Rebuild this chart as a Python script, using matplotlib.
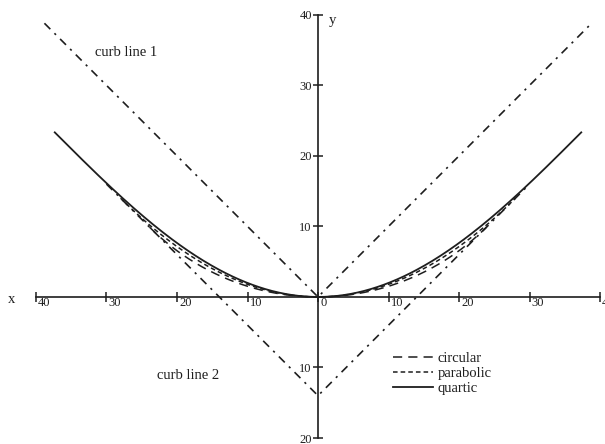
import numpy as np
import matplotlib
matplotlib.use("Agg")
import matplotlib.pyplot as plt

plt.rcParams['font.family'] = ['Liberation Serif', 'DejaVu Serif']

# geometry of the two curb lines
curb1_offset = 0.0      # curb line 1: y = |x|
curb2_offset = -14.0    # curb line 2: y = |x| - 14
curb1_extent = 38.8
curb2_extent = 30.0

x_ticks = [-40, -30, -20, -10, 0, 10, 20, 30, 40]
x_tick_labels = ['40', '30', '20', '10', '0', '10', '20', '30', '40']
y_ticks = [-20, -10, 10, 20, 30, 40]
y_tick_labels = ['20', '10', '10', '20', '30', '40']

legend_names = ['circular', 'parabolic', 'quartic']
ink = '#1e1e1e'

d = -curb2_offset

# circular arc tangent to y=0 at origin and to curb line 2
R = d / (np.sqrt(2) - 1)
xc_end = R / np.sqrt(2)
xc = np.linspace(-xc_end, xc_end, 301)
yc = R - np.sqrt(R ** 2 - xc ** 2)

# parabola y = a x^2 tangent to curb line 2
xp_end = 2 * d
a_p = 1 / (2 * xp_end)
xp = np.linspace(-xp_end, xp_end, 301)
yp = a_p * xp ** 2

# quartic y = a x^2 + c x^4, tangent with zero curvature at the end
xq_end = 8 * d / 3
a_q = 3 / (4 * xq_end)
c_q = -1 / (8 * xq_end ** 3)
xq = np.linspace(-xq_end, xq_end, 401)
yq = a_q * xq ** 2 + c_q * xq ** 4

fig = plt.figure(figsize=(6.05, 4.44), dpi=100)
ax = fig.add_axes([0, 0, 1, 1])
ax.set_xlim(-45.1, 40.7)
ax.set_ylim(-20.85, 42.1)

dashdot = (0, (5, 3.5, 1.3, 3.5))
x1 = np.array([-curb1_extent, 0, curb1_extent])
ax.plot(x1, np.abs(x1) + curb1_offset, color=ink, lw=1.2, linestyle=dashdot)
x2 = np.array([-curb2_extent, 0, curb2_extent])
ax.plot(x2, np.abs(x2) + curb2_offset, color=ink, lw=1.2, linestyle=dashdot)

ax.plot(xc, yc, color=ink, lw=1.1, linestyle=(0, (6, 4)), label=legend_names[0])
ax.plot(xp, yp, color=ink, lw=1.1, linestyle=(0, (3, 2)), label=legend_names[1])
ax.plot(xq, yq, color=ink, lw=1.3, linestyle='-', label=legend_names[2])

# axes crossing at the origin
for s in ['top', 'right']:
    ax.spines[s].set_visible(False)
ax.spines['left'].set_position(('data', 0))
ax.spines['bottom'].set_position(('data', 0))
ax.spines['bottom'].set_bounds(-40, 40)
ax.spines['left'].set_bounds(-20, 40)
for s in ['left', 'bottom']:
    ax.spines[s].set_color(ink)
    ax.spines[s].set_linewidth(1.2)

ax.set_xticks(x_ticks, [''] * len(x_ticks))
ax.set_yticks(y_ticks, y_tick_labels)
ax.tick_params(axis='x', direction='inout', length=7, width=1.1, color=ink)
ax.tick_params(axis='y', direction='inout', length=7, width=1.1, color=ink,
               labelsize=9, labelcolor=ink, pad=1)

for v, lbl in zip(x_ticks, x_tick_labels):
    ax.text(v + 0.3, -0.05, lbl, ha='left', va='top', fontsize=9, color=ink)

ax.text(-43.5, -0.4, 'x', ha='center', va='center', fontsize=10.5, color=ink)
ax.text(2.1, 39.2, 'y', ha='center', va='center', fontsize=10.5, color=ink)
ax.text(-27.2, 34.6, 'curb line 1', ha='center', va='center', fontsize=10.5, color=ink)
ax.text(-18.4, -11.1, 'curb line 2', ha='center', va='center', fontsize=10.5, color=ink)

ax.legend(loc='upper left', bbox_to_anchor=(0.650, 0.208), frameon=False,
          fontsize=10.5, handlelength=2.7, handletextpad=0.35, labelspacing=0.12,
          borderpad=0, borderaxespad=0, labelcolor=ink)

fig.savefig('out.png', dpi=100)
